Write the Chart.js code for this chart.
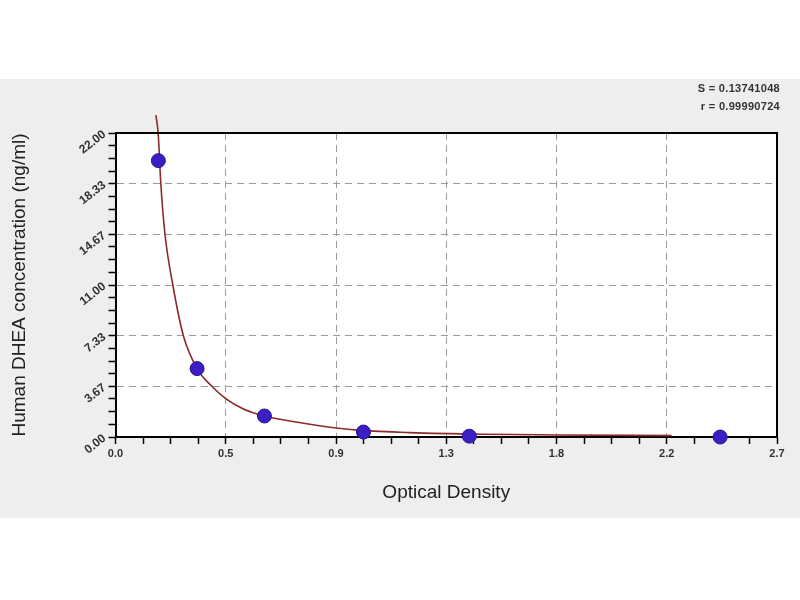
<!DOCTYPE html>
<html>
<head>
<meta charset="utf-8">
<script src="https://cdn.jsdelivr.net/npm/chart.js@4"></script>
<style>
  body { margin: 0; background: #fff; width: 800px; height: 600px; position: relative; overflow: hidden; }
  #panel { position: absolute; left: 0; top: 79px; width: 800px; height: 439px; background: #eeeeee; }
  #chart { display: block; }
  .fit { position: absolute; right: 20px; font: bold 11px "Liberation Sans", Arial, sans-serif; color: #333; letter-spacing: 0.3px; }
</style>
</head>
<body>
<div id="panel">
  <canvas id="chart" width="800" height="439"></canvas>
  <div class="fit" style="top: 3px;">S = 0.13741048</div>
  <div class="fit" style="top: 21px;">r = 0.99990724</div>
</div>
<script>
const xTickValues = [0, 0.45, 0.9, 1.35, 1.8, 2.25, 2.7];
const xTickLabels = ['0.0', '0.5', '0.9', '1.3', '1.8', '2.2', '2.7'];
const yTickValues = [0, 3.667, 7.333, 11, 14.667, 18.333, 22];
const yTickLabels = ['0.00', '3.67', '7.33', '11.00', '14.67', '18.33', '22.00'];

// standards: optical density vs concentration
const odValues = [0.175, 0.333, 0.608, 1.012, 1.444, 2.468];
const concValues = [20, 4.95, 1.52, 0.36, 0.06, 0];

// fitted curve
const curveOD = [0.165, 0.174, 0.185, 0.202, 0.234, 0.277, 0.333, 0.393, 0.45, 0.52, 0.608, 0.75, 0.9, 1.0, 1.2, 1.5, 1.8, 2.27];
const curveConc = [23.3, 22, 18.33, 14.67, 11, 7.33, 4.95, 3.67, 2.78, 2.05, 1.52, 1.05, 0.65, 0.48, 0.32, 0.2, 0.15, 0.1];

const FONT = '"Liberation Sans", Arial, sans-serif';

function withMinors(values) {
    const ticks = [];
    values.forEach((v, i) => {
        ticks.push({ value: v, main: true, idx: i });
        if (i < values.length - 1) {
            const step = (values[i + 1] - v) / 4;
            for (let k = 1; k < 4; k++) ticks.push({ value: v + step * k, main: false });
        }
    });
    return ticks;
}

const framePlugin = {
    id: 'frame',
    beforeDraw(chart) {
        const a = chart.chartArea, ctx = chart.ctx;
        ctx.save();
        ctx.fillStyle = '#fff';
        ctx.fillRect(a.left, a.top, a.right - a.left, a.bottom - a.top);
        ctx.restore();
    },
    afterDatasetsDraw(chart) {
        const a = chart.chartArea, ctx = chart.ctx;
        ctx.save();
        ctx.strokeStyle = '#000';
        ctx.lineWidth = 2;
        ctx.beginPath();
        ctx.moveTo(a.left, a.top);
        ctx.lineTo(a.right, a.top);
        ctx.lineTo(a.right, a.bottom);
        ctx.stroke();
        ctx.restore();
    }
};

const gridColor = c => (c.tick && c.tick.main) ? '#9a9a9a' : 'rgba(0,0,0,0)';

new Chart(document.getElementById('chart').getContext('2d'), {
    type: 'scatter',
    data: {
        datasets: [{
            label: 'Standards',
            data: odValues.map((x, i) => ({ x: x, y: concValues[i] })),
            pointRadius: 7,
            pointBackgroundColor: '#3b1fc4',
            pointBorderColor: '#2a1590',
            pointBorderWidth: 1,
            clip: false
        }, {
            label: 'Fit',
            data: curveOD.map((x, i) => ({ x: x, y: curveConc[i] })),
            showLine: true,
            pointRadius: 0,
            borderColor: '#8b2a2a',
            borderWidth: 1.6,
            cubicInterpolationMode: 'monotone',
            clip: false
        }]
    },
    options: {
        responsive: false,
        animation: false,
        layout: { padding: { top: 54, right: 23, left: 0, bottom: 0 } },
        plugins: { legend: { display: false }, tooltip: { enabled: false } },
        scales: {
            x: {
                type: 'linear',
                min: 0,
                max: 2.7,
                afterBuildTicks: s => { s.ticks = withMinors(xTickValues); },
                afterFit: s => { s.height = 81; },
                grid: { color: gridColor, tickColor: '#000', tickLength: 7, tickWidth: 1.5, lineWidth: 1 },
                border: { display: true, color: '#000', width: 2, dash: [7, 5] },
                ticks: {
                    autoSkip: false,
                    maxRotation: 0,
                    color: '#333',
                    font: { family: FONT, size: 11, weight: 'bold' },
                    padding: 3,
                    callback: (v, i, t) => t[i].main ? xTickLabels[t[i].idx] : ''
                },
                title: {
                    display: true,
                    text: 'Optical Density',
                    color: '#222',
                    font: { family: FONT, size: 19 },
                    padding: { top: 0, bottom: 14 }
                }
            },
            y: {
                type: 'linear',
                min: 0,
                max: 22,
                afterBuildTicks: s => { s.ticks = withMinors(yTickValues); },
                afterFit: s => { s.width = 115.5; },
                grid: { color: gridColor, tickColor: '#000', tickLength: 7, tickWidth: 1.5, lineWidth: 1 },
                border: { display: true, color: '#000', width: 2, dash: [7, 5] },
                ticks: {
                    autoSkip: false,
                    minRotation: 38,
                    maxRotation: 38,
                    color: '#333',
                    font: { family: FONT, size: 12, weight: 'bold' },
                    padding: 4,
                    callback: (v, i, t) => t[i].main ? yTickLabels[t[i].idx] : ''
                },
                title: {
                    display: true,
                    text: 'Human DHEA concentration (ng/ml)',
                    color: '#222',
                    font: { family: FONT, size: 19 },
                    padding: { top: 8, bottom: 0 }
                }
            }
        }
    },
    plugins: [framePlugin]
});
</script>
</body>
</html>
